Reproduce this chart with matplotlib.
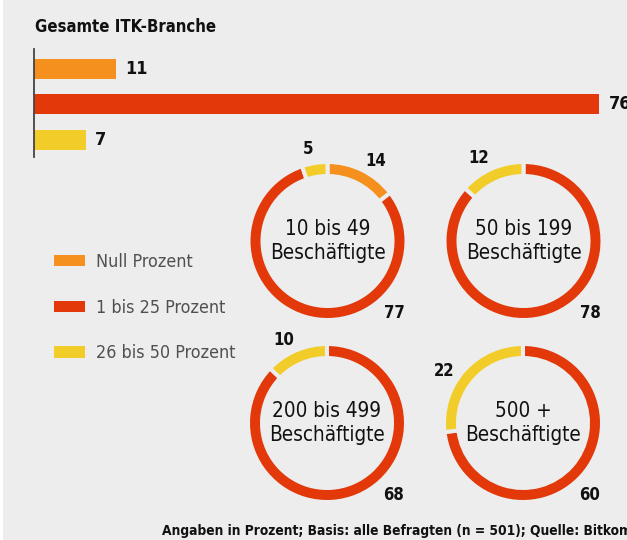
import os
import numpy as np
import matplotlib
matplotlib.use("Agg")
import matplotlib.pyplot as plt
from matplotlib import font_manager as fm
from matplotlib.patches import Patch, Rectangle

# ---------------- data ----------------
title = "Gesamte ITK-Branche"
categories = ["Null Prozent", "1 bis 25 Prozent", "26 bis 50 Prozent"]
total_values = [11, 76, 7]

donut_titles = ["10 bis 49\nBeschäftigte", "50 bis 199\nBeschäftigte",
                "200 bis 499\nBeschäftigte", "500 +\nBeschäftigte"]
null_values = [14, 0, 0, 0]
low_values = [77, 78, 68, 60]
mid_values = [5, 12, 10, 22]

footer = "Angaben in Prozent; Basis: alle Befragten (n = 501); Quelle: Bitkom"

# ---------------- fonts (prefer a condensed face) ----------------
files = {os.path.basename(f.fname): f.fname for f in fm.fontManager.ttflist}
candidates = [
    ("NotoSans-ExtraCondensed.ttf", "NotoSans-ExtraCondensedBold.ttf", "noto-xc"),
    ("LiberationSansNarrow-Regular.ttf", "LiberationSansNarrow-Bold.ttf", "narrow"),
    ("NotoSans-Condensed.ttf", "NotoSans-CondensedBold.ttf", "noto-c"),
    ("DejaVuSansCondensed.ttf", "DejaVuSansCondensed-Bold.ttf", "dejavu"),
]
REG = BOLD = None
FACE = "roboto"
for r, b, tag in candidates:
    if r in files and b in files:
        REG, BOLD, FACE = files[r], files[b], tag
        break
SCALE = {"noto-xc": 1.0, "narrow": 1.0, "noto-c": 0.92, "dejavu": 0.92,
         "roboto": 0.82}[FACE]


def fp(size, bold=False):
    size = size * SCALE
    if REG is None:
        return fm.FontProperties(family=["Roboto", "DejaVu Sans"], size=size,
                                 weight="bold" if bold else "normal")
    return fm.FontProperties(fname=BOLD if bold else REG, size=size)


# ---------------- style ----------------
colors = ["#F5901E", "#E2380A", "#F2CD2A"]
bg = "#ECEDEC"

W, H = 627, 540
fig = plt.figure(figsize=(W / 100, H / 100), dpi=100, facecolor=bg)
fig.patches.append(Rectangle((0, 0), 3 / W, 1, transform=fig.transFigure,
                             facecolor="white", edgecolor="none", zorder=0))


def px_axes(x0, y0, x1, y1):
    """axes from pixel box (top-left origin)"""
    return fig.add_axes([x0 / W, 1 - y1 / H, (x1 - x0) / W, (y1 - y0) / H])


# ---------------- title ----------------
fig.text(35 / W, 1 - 27 / H, title, fontproperties=fp(13, True),
         ha="left", va="center", color="#111111")

# ---------------- bar chart ----------------
axb = px_axes(34, 49, W, 157)
axb.set_facecolor("none")
ypos = np.arange(len(total_values))
axb.barh(ypos, total_values, height=0.56, color=colors, left=0)
axb.set_xlim(0, (W - 34) / 7.44)
axb.set_ylim(2.48, -0.56)
for s in ["top", "right", "bottom"]:
    axb.spines[s].set_visible(False)
axb.spines["left"].set_color("#444444")
axb.spines["left"].set_linewidth(1.3)
axb.set_xticks([])
axb.set_yticks([])
for y, v in zip(ypos, total_values):
    axb.annotate(str(v), (v, y), xytext=(6.5, 0), textcoords="offset points",
                 ha="left", va="center", fontproperties=fp(14, True),
                 color="#111111", annotation_clip=False)

# ---------------- legend ----------------
leg_fp = fp(14)
fs_px = leg_fp.get_size_in_points() * 100 / 72
handles = [Patch(facecolor=c, edgecolor="none") for c in colors]
leg = fig.legend(handles, categories, loc="upper left",
                 bbox_to_anchor=(54 / W, 1 - 253 / H), frameon=False,
                 prop=leg_fp, handlelength=31 / fs_px, handleheight=11 / fs_px,
                 handletextpad=11 / fs_px,
                 labelspacing=(42.7 - 0.84 * fs_px) / fs_px,
                 borderpad=0, borderaxespad=0)
for t in leg.get_texts():
    t.set_color("#505050")

# ---------------- donuts ----------------
centers = [(327.5, 241), (523.5, 241), (327, 423), (523, 423)]
HALF = 80.0          # half axes size in px
R_OUT = 79.0         # geometric outer radius (px)
RING = 14.0          # geometric ring width (px)

for i, (cx, cy) in enumerate(centers):
    ax = px_axes(cx - HALF, cy - HALF, cx + HALF, cy + HALF)
    ax.set_facecolor("none")
    vals = [null_values[i], low_values[i], mid_values[i]]
    keep = [k for k, v in enumerate(vals) if v > 0]
    v_k = [vals[k] for k in keep]
    c_k = [colors[k] for k in keep]
    ax.pie(v_k, colors=c_k, startangle=90, counterclock=False,
           radius=R_OUT / HALF,
           wedgeprops=dict(width=RING / HALF, edgecolor=bg, linewidth=2.9))
    ax.set_xlim(-1, 1)
    ax.set_ylim(-1, 1)
    ax.set_aspect("equal")
    ax.axis("off")
    ax.text(0, 0.0, donut_titles[i], ha="center", va="center",
            fontproperties=fp(16.2), linespacing=1.22, color="#111111")

    tot = sum(v_k)
    lab_r = 94 / HALF
    if null_values[i] > 0:
        mid = null_values[i] / tot * 360 / 2
        a = np.deg2rad(mid * 1.15 + 1)
        ax.text(lab_r * np.sin(a), lab_r * np.cos(a), str(null_values[i]),
                ha="center", va="center", fontproperties=fp(13, True),
                color="#111111")
    if mid_values[i] > 0:
        mid = mid_values[i] / tot * 360 / 2
        a = np.deg2rad(mid * 1.15 + 1)
        ax.text(-lab_r * np.sin(a), lab_r * np.cos(a), str(mid_values[i]),
                ha="center", va="center", fontproperties=fp(13, True),
                color="#111111")
    a = np.deg2rad(137)
    rr = 98 / HALF
    ax.text(rr * np.sin(a), rr * np.cos(a), str(low_values[i]),
            ha="center", va="center", fontproperties=fp(13, True),
            color="#111111")

# ---------------- footer ----------------
fig.text(162 / W, 1 - 531 / H, footer, fontproperties=fp(10.8, True),
         ha="left", va="center", color="#111111")

fig.savefig("out.png", dpi=100, facecolor=bg)
